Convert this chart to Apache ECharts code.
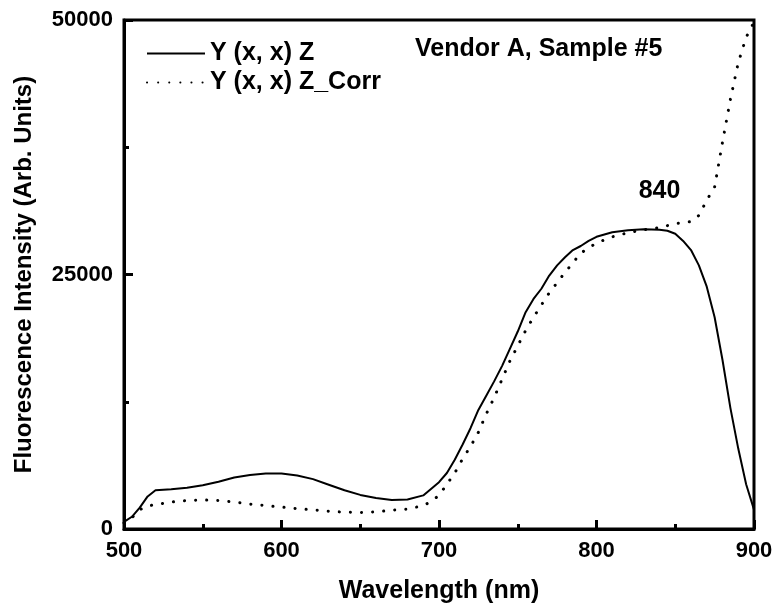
<!DOCTYPE html>
<html>
<head>
<meta charset="utf-8">
<script src="https://cdn.jsdelivr.net/npm/echarts@6/dist/echarts.min.js"></script>
<style>
  html, body { margin: 0; padding: 0; background: #fff; }
  #chart { width: 776px; height: 613px; }
</style>
</head>
<body>
<div id="chart"></div>
<script>
const seriesNames = ['Y (x, x) Z', 'Y (x, x) Z_Corr'];

const rawWavelength = [
  500, 505, 510, 515, 520, 530, 540, 550, 560, 570, 580, 590, 600, 610, 620, 630, 640, 650, 660, 670,
  680, 690, 700, 705, 710, 715, 720, 725, 730, 735, 740, 745, 750, 755, 760, 765, 770, 775, 780, 785,
  790, 795, 800, 810, 820, 830, 840, 845, 850, 855, 860, 865, 870, 875, 880, 885, 890, 895, 900
];
const rawIntensity = [
  700, 1200, 2100, 3200, 3800, 3900, 4050, 4300, 4650, 5050, 5300, 5450, 5450, 5250, 4900, 4350, 3800, 3350, 3050, 2850,
  2900, 3300, 4600, 5500, 6800, 8300, 9900, 11700, 13100, 14500, 16000, 17700, 19400, 21300, 22600, 23600, 24900, 25900, 26700, 27400,
  27800, 28300, 28700, 29150, 29350, 29450, 29400, 29300, 29000, 28300, 27400, 25900, 23800, 20800, 16600, 11900, 7900, 4400, 1900
];

const corrWavelength = [
  500, 505, 510, 515, 520, 530, 540, 550, 560, 570, 580, 590, 600, 610, 620, 630, 640, 650, 660, 670,
  680, 690, 695, 700, 705, 710, 715, 720, 725, 730, 735, 740, 745, 750, 755, 760, 765, 770, 775, 780,
  790, 800, 810, 820, 830, 840, 850, 860, 865, 870, 875, 880, 885, 890, 895, 900
];
const corrIntensity = [
  600, 1100, 1900, 2250, 2400, 2650, 2800, 2850, 2800, 2650, 2450, 2300, 2150, 2000, 1880, 1750, 1650, 1620, 1680, 1850,
  1950, 2300, 2700, 3300, 4400, 5500, 6900, 8100, 9500, 11300, 12900, 14700, 16500, 18000, 19500, 20800, 22000, 23200, 24200, 25200,
  27100, 28100, 28700, 29100, 29400, 29600, 30000, 30200, 30800, 32300, 33600, 38000, 42200, 45800, 48300, 49800
];

const peakLabel = { wavelength: 840, intensity: 29400, text: '840' };
const sampleText = 'Vendor A, Sample #5';

const FONT = '"Liberation Sans", Arial, sans-serif';
const bold = (size) => ({ fontFamily: FONT, fontWeight: 'bold', fontSize: size, color: '#000' });

const chart = echarts.init(document.getElementById('chart'));

chart.setOption({
  animation: false,
  backgroundColor: '#fff',
  textStyle: { fontFamily: FONT },
  grid: {
    left: 124,
    right: 22,
    top: 20,
    bottom: 84,
    show: true,
    borderColor: '#000',
    borderWidth: 3,
  },
  title: {
    text: sampleText,
    left: 410,
    top: 32,
    textStyle: bold(25),
  },
  legend: {
    left: 141,
    top: 36,
    orient: 'vertical',
    itemWidth: 58,
    itemHeight: 14,
    itemGap: 4,
    // hide the symbol in the middle of the legend line
    itemStyle: { opacity: 0 },
    data: seriesNames,
    textStyle: bold(25),
  },
  xAxis: {
    type: 'value',
    min: 500,
    max: 900,
    interval: 100,
    name: 'Wavelength (nm)',
    nameLocation: 'middle',
    nameGap: 50,
    nameTextStyle: bold(25),
    axisLine: { lineStyle: { color: '#000', width: 3 } },
    axisTick: { inside: true, length: 9, lineStyle: { color: '#000', width: 3 } },
    minorTick: { show: true, splitNumber: 2, length: 5, lineStyle: { color: '#000', width: 3 } },
    axisLabel: { ...bold(22), margin: 11 },
    splitLine: { show: false },
  },
  yAxis: {
    type: 'value',
    min: 0,
    max: 50000,
    interval: 25000,
    name: 'Fluorescence Intensity (Arb. Units)',
    nameLocation: 'middle',
    nameGap: 88,
    nameTextStyle: bold(24),
    axisLine: { lineStyle: { color: '#000', width: 3 } },
    axisTick: { inside: true, length: 9, lineStyle: { color: '#000', width: 3 } },
    minorTick: { show: true, splitNumber: 2, length: 5, lineStyle: { color: '#000', width: 3 } },
    axisLabel: { ...bold(22), margin: 11, formatter: (v) => String(v) },
    splitLine: { show: false },
  },
  series: [
    {
      name: seriesNames[0],
      type: 'line',
      data: rawWavelength.map((w, i) => [w, rawIntensity[i]]),
      showSymbol: false,
      symbol: 'none',
      lineStyle: { color: '#000', width: 2 },
      itemStyle: { color: '#000' },
      markPoint: {
        symbol: 'circle',
        symbolSize: 0,
        data: [{ coord: [peakLabel.wavelength, peakLabel.intensity] }],
        label: {
          show: true,
          formatter: peakLabel.text,
          position: 'top',
          distance: 26,
          ...bold(25),
        },
      },
    },
    {
      name: seriesNames[1],
      type: 'line',
      data: corrWavelength.map((w, i) => [w, corrIntensity[i]]),
      showSymbol: false,
      symbol: 'none',
      lineStyle: { color: '#000', width: 3, type: [0.1, 11], cap: 'round' },
      itemStyle: { color: '#000' },
    },
  ],
});
</script>
</body>
</html>
